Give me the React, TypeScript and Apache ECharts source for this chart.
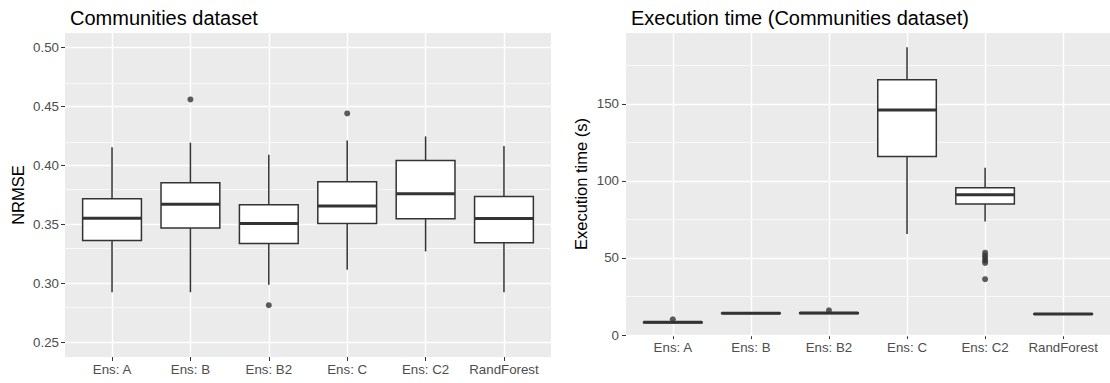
import React, { useEffect, useRef } from 'react';
import * as echarts from 'echarts';

const FONT = '"Liberation Sans", Arial, Helvetica, sans-serif';

const categories = ['Ens: A', 'Ens: B', 'Ens: B2', 'Ens: C', 'Ens: C2', 'RandForest'];

// NRMSE (left panel)
const nrmseMin = [0.2925, 0.2925, 0.2988, 0.3115, 0.3271, 0.2925];
const nrmseQ1 = [0.3364, 0.3469, 0.3339, 0.3508, 0.3548, 0.3345];
const nrmseMedian = [0.3553, 0.3672, 0.3508, 0.3656, 0.3761, 0.3551];
const nrmseQ3 = [0.3718, 0.3854, 0.3667, 0.3862, 0.4043, 0.3738];
const nrmseMax = [0.4156, 0.4194, 0.4092, 0.4213, 0.4247, 0.4165];
const nrmseOutlierCat = ['Ens: B', 'Ens: B2', 'Ens: C'];
const nrmseOutlierVal = [0.4561, 0.2815, 0.4442];
const nrmseMajorTicks = [0.25, 0.3, 0.35, 0.4, 0.45, 0.5];
const nrmseMinorTicks = [0.275, 0.325, 0.375, 0.425, 0.475];

// Execution time (right panel)
const timeMin = [7.6, 13.7, 13.8, 65.6, 73.6, 13.3];
const timeQ1 = [7.9, 13.9, 14.0, 115.8, 85.1, 13.5];
const timeMedian = [8.2, 14.1, 14.2, 146.1, 91.1, 13.6];
const timeQ3 = [8.5, 14.3, 14.4, 165.6, 95.5, 13.8];
const timeMax = [9.0, 14.5, 14.7, 186.8, 108.6, 14.0];
const timeOutlierCat = ['Ens: A', 'Ens: B2', 'Ens: C2', 'Ens: C2', 'Ens: C2', 'Ens: C2', 'Ens: C2', 'Ens: C2'];
const timeOutlierVal = [10.2, 16.0, 53.4, 51.6, 50.0, 48.4, 46.8, 36.2];
const timeMajorTicks = [0, 50, 100, 150];
const timeMinorTicks = [25, 75, 125, 175];

const catPos = categories.map((_, i) => i + 1);

const boxData = (mn: number[], q1: number[], md: number[], q3: number[], mx: number[]) =>
  categories.map((_, i) => [i + 1, mn[i], q1[i], md[i], q3[i], mx[i]]);

const outlierData = (cats: string[], vals: number[]) =>
  cats.map((c, i) => [categories.indexOf(c) + 1, vals[i]]);

const BOX_COLOR = '#333333';

const renderBox = (params: any, api: any) => {
  const x = api.value(0);
  const pMin = api.coord([x, api.value(1)]);
  const pQ1 = api.coord([x, api.value(2)]);
  const pMed = api.coord([x, api.value(3)]);
  const pQ3 = api.coord([x, api.value(4)]);
  const pMax = api.coord([x, api.value(5)]);
  const w = api.size([0.75, 0])[0];
  const cx = pMed[0];
  return {
    type: 'group',
    children: [
      { type: 'line', shape: { x1: cx, y1: pQ3[1], x2: cx, y2: pMax[1] }, style: { stroke: BOX_COLOR, lineWidth: 1.5 } },
      { type: 'line', shape: { x1: cx, y1: pQ1[1], x2: cx, y2: pMin[1] }, style: { stroke: BOX_COLOR, lineWidth: 1.5 } },
      {
        type: 'rect',
        shape: { x: cx - w / 2, y: pQ3[1], width: w, height: pQ1[1] - pQ3[1] },
        style: { fill: '#ffffff', stroke: BOX_COLOR, lineWidth: 1.5 },
      },
      { type: 'line', shape: { x1: cx - w / 2, y1: pMed[1], x2: cx + w / 2, y2: pMed[1] }, style: { stroke: BOX_COLOR, lineWidth: 3 } },
    ],
  };
};

const gridLines = (major: number[], minor: number[]) => ({
  silent: true,
  z: 1,
  symbol: ['none', 'none'],
  label: { show: false },
  emphasis: { disabled: true },
  animation: false,
  lineStyle: { color: '#ffffff', type: 'solid', width: 1.4 },
  data: [
    ...minor.map((v) => ({ yAxis: v, lineStyle: { color: '#ffffff', type: 'solid', width: 0.7 } })),
    ...major.map((v) => ({ yAxis: v, lineStyle: { color: '#ffffff', type: 'solid', width: 1.4 } })),
    ...catPos.map((v) => ({ xAxis: v, lineStyle: { color: '#ffffff', type: 'solid', width: 1.4 } })),
  ],
});

const xAxisBase = (gridIndex: number) => ({
  type: 'value',
  gridIndex,
  min: 0.4,
  max: 6.6,
  axisLine: { show: false },
  splitLine: { show: false },
  axisTick: { show: true, length: 4, lineStyle: { color: '#333333', width: 1 }, customValues: catPos },
  axisLabel: {
    customValues: catPos,
    color: '#4D4D4D',
    fontSize: 13.3,
    fontFamily: FONT,
    margin: 6,
    formatter: (v: number) => categories[Math.round(v) - 1] ?? '',
  },
});

const option: any = {
  animation: false,
  backgroundColor: '#ffffff',
  title: [
    { text: 'Communities dataset', left: 65, top: 3, textStyle: { fontFamily: FONT, fontSize: 20, fontWeight: 'normal', color: '#000' } },
    { text: 'Execution time (Communities dataset)', left: 626, top: 3, textStyle: { fontFamily: FONT, fontSize: 20, fontWeight: 'normal', color: '#000' } },
  ],
  grid: [
    { left: 65, top: 33, width: 486, height: 324, show: true, backgroundColor: '#EBEBEB', borderWidth: 0 },
    { left: 626, top: 33, width: 488, height: 302, show: true, backgroundColor: '#EBEBEB', borderWidth: 0 },
  ],
  xAxis: [xAxisBase(0), xAxisBase(1)],
  yAxis: [
    {
      type: 'value',
      gridIndex: 0,
      min: 0.2375,
      max: 0.5125,
      name: 'NRMSE',
      nameLocation: 'middle',
      nameRotate: 90,
      nameGap: 39,
      nameTextStyle: { fontFamily: FONT, fontSize: 16.5, color: '#000' },
      axisLine: { show: false },
      splitLine: { show: false },
      axisTick: { show: true, length: 4, lineStyle: { color: '#333333', width: 1 }, customValues: nrmseMajorTicks },
      axisLabel: {
        customValues: nrmseMajorTicks,
        color: '#4D4D4D',
        fontSize: 13.3,
        fontFamily: FONT,
        margin: 6,
        formatter: (v: number) => v.toFixed(2),
      },
    },
    {
      type: 'value',
      gridIndex: 1,
      min: 0,
      max: 196,
      name: 'Execution time (s)',
      nameLocation: 'middle',
      nameRotate: 90,
      nameGap: 37,
      nameTextStyle: { fontFamily: FONT, fontSize: 16.5, color: '#000' },
      axisLine: { show: false },
      splitLine: { show: false },
      axisTick: { show: true, length: 4, lineStyle: { color: '#333333', width: 1 }, customValues: timeMajorTicks },
      axisLabel: {
        customValues: timeMajorTicks,
        color: '#4D4D4D',
        fontSize: 13.3,
        fontFamily: FONT,
        margin: 7,
        formatter: (v: number) => String(v),
      },
    },
  ],
  series: [
    { type: 'line', xAxisIndex: 0, yAxisIndex: 0, data: [], silent: true, markLine: gridLines(nrmseMajorTicks, nrmseMinorTicks) },
    { type: 'line', xAxisIndex: 1, yAxisIndex: 1, data: [], silent: true, markLine: gridLines(timeMajorTicks, timeMinorTicks) },
    {
      type: 'custom',
      xAxisIndex: 0,
      yAxisIndex: 0,
      z: 3,
      silent: true,
      renderItem: renderBox,
      encode: { x: 0, y: [1, 2, 3, 4, 5] },
      data: boxData(nrmseMin, nrmseQ1, nrmseMedian, nrmseQ3, nrmseMax),
    },
    {
      type: 'custom',
      xAxisIndex: 1,
      yAxisIndex: 1,
      z: 3,
      silent: true,
      renderItem: renderBox,
      encode: { x: 0, y: [1, 2, 3, 4, 5] },
      data: boxData(timeMin, timeQ1, timeMedian, timeQ3, timeMax),
    },
    {
      type: 'scatter',
      xAxisIndex: 0,
      yAxisIndex: 0,
      z: 4,
      silent: true,
      symbol: 'circle',
      symbolSize: 6,
      itemStyle: { color: '#333333' },
      data: outlierData(nrmseOutlierCat, nrmseOutlierVal),
    },
    {
      type: 'scatter',
      xAxisIndex: 1,
      yAxisIndex: 1,
      z: 4,
      silent: true,
      symbol: 'circle',
      symbolSize: 6,
      itemStyle: { color: '#333333' },
      data: outlierData(timeOutlierCat, timeOutlierVal),
    },
  ],
};

export default function App() {
  const ref = useRef<HTMLDivElement>(null);
  useEffect(() => {
    if (!ref.current) return;
    const chart = echarts.init(ref.current, null, { renderer: 'svg' });
    chart.setOption(option);
    return () => chart.dispose();
  }, []);
  return (
    <div
      ref={ref}
      style={{ position: 'fixed', left: 0, top: 0, width: 1110, height: 383, background: '#ffffff' }}
    />
  );
}
